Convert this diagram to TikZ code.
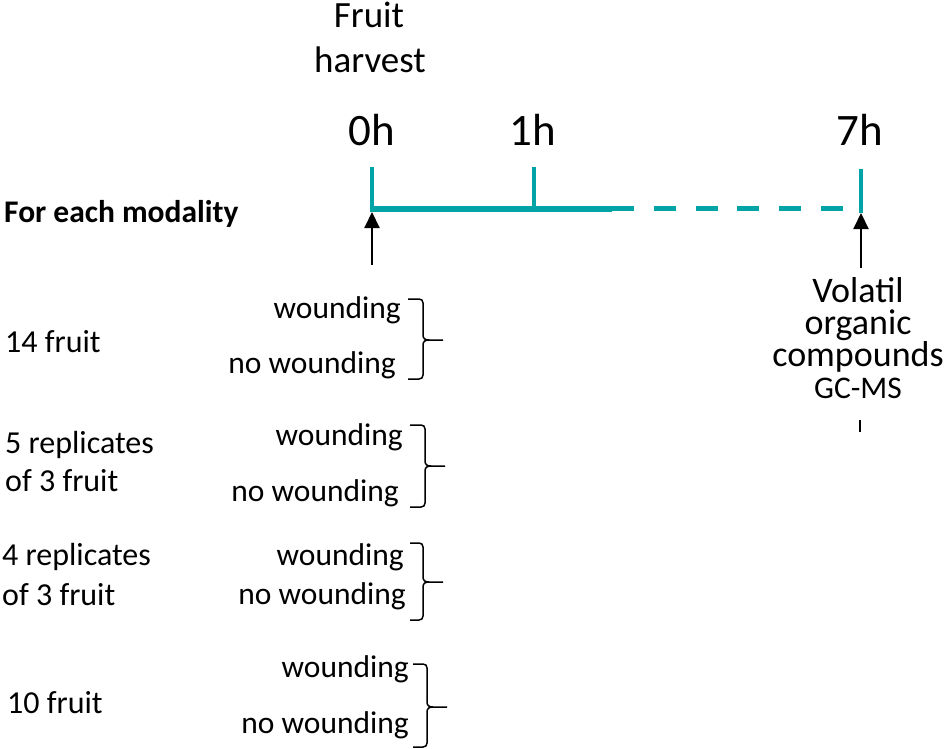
\documentclass[tikz,border=0pt]{standalone}
\usepackage{fontspec}
\setmainfont{Carlito}
\usetikzlibrary{arrows.meta}
\definecolor{tealline}{RGB}{0,164,166}
\newcommand\mybrace[7]{%
  % #1 name, #2 x left, #3 x vertical, #4 x tip, #5 top, #6 mid, #7 bottom
  \coordinate (#1tip) at (#4,#6);
  \draw[bracestyle] (#2,#5) -- (#3-4,#5) .. controls (#3-1.5,#5) and (#3,#5+1.5) .. (#3,#5+4)
     -- (#3,#6-5) .. controls (#3,#6-1.5) and (#3+2,#6) .. (#3+6,#6) -- (#1tip);
  \draw[bracestyle] (#2,#7) -- (#3-4,#7) .. controls (#3-1.5,#7) and (#3,#7-1.5) .. (#3,#7-4)
     -- (#3,#6+5) .. controls (#3,#6+1.5) and (#3+2,#6) .. (#3+6,#6);
}
\begin{document}
\begin{tikzpicture}[x=1pt,y=-1pt,
  txt/.style={inner sep=0pt, anchor=base, text=black},
  hour/.style={txt, font=\fontsize{45}{54}\selectfont},
  head/.style={txt, font=\fontsize{37}{44}\selectfont},
  voc/.style={txt, align=center, font={\fontsize{36}{31.7}\selectfont\lineskiplimit=-100pt}},
  modal/.style={txt, anchor=base west, font=\bfseries\fontsize{31.5}{38}\selectfont},
  group/.style={txt, anchor=base west, font=\fontsize{32}{38}\selectfont},
  wound/.style={txt, anchor=base east, font=\fontsize{31.5}{38}\selectfont},
  tick/.style={draw=tealline, line width=4.7pt},
  axis/.style={draw=tealline, line width=6pt},
  axisdash/.style={draw=tealline, line width=5pt, dash pattern=on 22pt off 19.8pt},
  arr/.style={draw=black, line width=2pt, -{Triangle[length=16pt,width=15pt]}},
  bracestyle/.style={draw=black, line width=1.5pt},
  smalltick/.style={draw=black, line width=1.8pt}
]
\useasboundingbox (0,0) rectangle (947,749);

% header texts
\node[head] (fruit) at (369,28) {Fruit};
\node[head] (harvest) at (370,73) {harvest};
\node[hour] (h0) at (372,145) {0h};
\node[hour] (h1) at (533,145) {1h};
\node[hour] (h7) at (860,145) {7h};

% timeline
\coordinate (t0top) at (372,167);
\coordinate (t0bot) at (372,212);
\coordinate (t1top) at (534,167);
\coordinate (t1bot) at (534,209);
\coordinate (t7top) at (861,169);
\coordinate (t7bot) at (861,213);
\coordinate (axstart) at (369.7,209);
\coordinate (axmid) at (612,209);
\coordinate (dstart) at (612,208.5);
\coordinate (dend) at (846,208.5);
\draw[tick] (t0top) -- (t0bot);
\draw[tick] (t1top) -- (t1bot);
\draw[tick] (t7top) -- (t7bot);
\draw[axis] (axstart) -- (axmid);
\draw[axisdash] (dstart) -- (dend);

% arrows
\coordinate (a0) at (372,265);
\coordinate (a0tip) at (372,212);
\coordinate (a7) at (861,268);
\coordinate (a7tip) at (861,213);
\draw[arr] (a0) -- (a0tip);
\draw[arr] (a7) -- (a7tip);

% modality label
\node[modal] (modality) at (4,222) {For each modality};

% volatile compounds (base anchor = last line baseline)
\node[voc] (voc) at (858,398) {Volatil\\organic\\compounds\\{\fontsize{31.5}{31.7}\selectfont GC-MS}};
\coordinate (st1) at (860,420);
\coordinate (st2) at (860,432);
\draw[smalltick] (st1) -- (st2);

% groups
\node[group] (g1) at (5,352) {14 fruit};
\node[group] (g2a) at (5,453) {5 replicates};
\node[group] (g2b) at (5,491) {of 3 fruit};
\node[group] (g3a) at (2,565) {4 replicates};
\node[group] (g3b) at (2,605) {of 3 fruit};
\node[group] (g4) at (7,713) {10 fruit};

\node[wound] (w1) at (401,318) {wounding};
\node[wound] (n1) at (396,373) {no wounding};
\node[wound] (w2) at (403,445) {wounding};
\node[wound] (n2) at (399,501) {no wounding};
\node[wound] (w3) at (404,565) {wounding};
\node[wound] (n3) at (406,604) {no wounding};
\node[wound] (w4) at (409,677) {wounding};
\node[wound] (n4) at (409,733) {no wounding};

\mybrace{b1}{408}{423}{443}{299}{340}{379}
\mybrace{b2}{410}{425}{445}{425}{466}{507}
\mybrace{b3}{410}{423}{443}{543}{582}{620}
\mybrace{b4}{413}{427}{447}{664}{707}{747}
\end{tikzpicture}
\end{document}
